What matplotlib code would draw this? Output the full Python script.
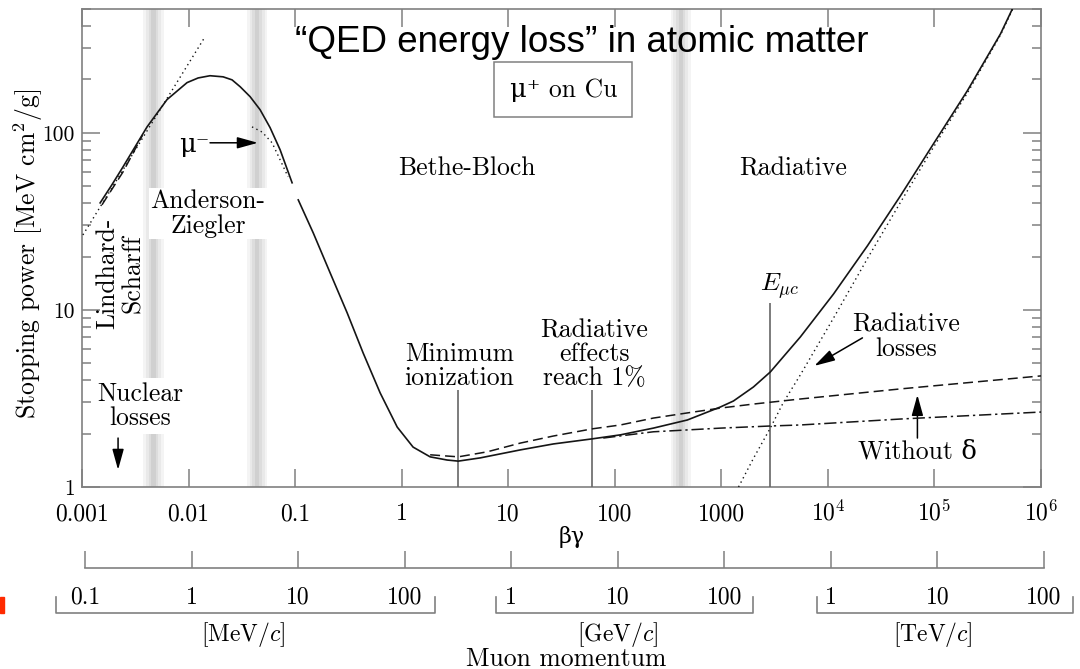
import matplotlib.pyplot as plt
import matplotlib.patches as mpatches
from matplotlib.ticker import NullLocator, NullFormatter

plt.rcParams['font.family'] = ['cmr10', 'DejaVu Serif']
plt.rcParams['mathtext.fontset'] = 'cm'
plt.rcParams['axes.formatter.use_mathtext'] = True

# --- values: beta*gamma and stopping power [MeV cm^2/g] ---
# mu+ on Cu, total (solid), low energy piece
bg_tot_a = [0.00148, 0.00191, 0.00243, 0.00408, 0.00628, 0.00968, 0.0123, 0.0159, 0.0211,
            0.0256, 0.0305, 0.0378, 0.0469, 0.0582, 0.0723, 0.0937]
sp_tot_a = [40.2, 50.9, 64.3, 108, 154, 192, 204, 210, 207,
            199, 182, 160, 135, 107, 80.2, 52.2]
# total (solid), main piece
bg_tot_b = [0.107, 0.148, 0.213, 0.308, 0.435, 0.628, 0.908, 1.28, 1.85, 2.67, 3.40,
            5.46, 13.0, 26.5, 61.5, 113, 230, 480, 980, 1300, 2000, 2880, 5520,
            11300, 23500, 48000, 98000, 204000, 417000, 540000]
sp_tot_b = [41.8, 27.2, 16.2, 9.62, 5.71, 3.40, 2.18, 1.68, 1.48, 1.42, 1.40,
            1.46, 1.62, 1.75, 1.87, 1.97, 2.15, 2.39, 2.83, 3.06, 3.67, 4.46, 7.04,
            12.3, 23.0, 44.1, 86.7, 173, 362, 502]
# dashed, low energy
bg_dash_a = [0.00154, 0.00243, 0.00370]
sp_dash_a = [39.2, 60.2, 97]
# dashed, ionization
bg_dash_b = [1.85, 3.40, 6.35, 13.0, 26.5, 61.5, 113, 230, 480, 980, 2000, 5520, 48000, 1e6]
sp_dash_b = [1.52, 1.48, 1.58, 1.77, 1.94, 2.13, 2.24, 2.45, 2.62, 2.79, 2.94, 3.14, 3.58, 4.24]
# dash-dot, without delta
bg_nodelta = [78, 230, 980, 2880, 5520, 48000, 1e6]
sp_nodelta = [1.89, 2.05, 2.15, 2.21, 2.24, 2.42, 2.65]
# dotted, radiative losses
bg_rad = [1450, 2000, 2880, 3820, 5520, 11300, 23500, 48000, 98000, 204000, 417000, 540000]
sp_rad = [1.0, 1.45, 2.15, 3.0, 4.3, 9.0, 19.5, 40.5, 83, 168, 357, 497]
# dotted, Lindhard-Scharff
bg_lind = [0.00102, 0.0143]
sp_lind = [26.5, 349]
# dotted, mu-
bg_muminus = [0.0394, 0.0490, 0.0608, 0.0723, 0.0859]
sp_muminus = [108, 101, 87.8, 70.4, 56.4]

band_centers = [0.0047, 0.044, 415]
marker_bg = [3.4, 61.5, 2880]
marker_top = [3.53, 3.53, 10.96]

xtick_vals = [1e-3, 1e-2, 1e-1, 1, 10, 100, 1000, 1e4, 1e5, 1e6]
xtick_labels = ['0.001', '0.01', '0.1', '1', '10', '100', '1000',
                r'$10^4$', r'$10^5$', r'$10^6$']
ytick_vals = [1, 10, 100]
ytick_labels = ['1', '10', '100']

p_labels = ['0.1', '1', '10', '100', '1', '10', '100', '1', '10', '100']
p_groups = ['[MeV/$c$]', '[GeV/$c$]', '[TeV/$c$]']
p_group_lo = [0.000534, 7.23, 7460]
p_group_hi = [1.93, 1870, 1.89e6]
p_group_mid = [0.0305, 99, 89800]

W, H = 1080, 669
fig = plt.figure(figsize=(W / 100, H / 100), dpi=100)
ax = fig.add_axes([82 / W, 1 - 487 / H, (1041 - 82) / W, (487 - 9) / H])
ax.set_xscale('log')
ax.set_yscale('log')
ax.set_xlim(1e-3, 1e6)
ax.set_ylim(1, 500)

# grey shaded bands
for c in band_centers:
    for half, col in [(0.095, '#f4f4f4'), (0.07, '#e9e9e9'), (0.045, '#dddddd'), (0.02, '#d0d0d0')]:
        ax.axvspan(c / 10 ** half, c * 10 ** half, color=col, lw=0, zorder=0)

lc = '#151515'
ax.plot(bg_tot_a, sp_tot_a, color=lc, lw=1.2, zorder=4)
ax.plot(bg_tot_b, sp_tot_b, color=lc, lw=1.2, zorder=4)
ax.plot(bg_dash_a, sp_dash_a, color=lc, lw=1.1, ls=(0, (6.5, 3.3)), zorder=4)
ax.plot(bg_dash_b, sp_dash_b, color=lc, lw=1.1, ls=(0, (6.5, 3.3)), zorder=4)
ax.plot(bg_nodelta, sp_nodelta, color=lc, lw=1.1, ls=(0, (8, 2.5, 1.5, 2.5)), zorder=4)
ax.plot(bg_rad, sp_rad, color=lc, lw=1.0, ls=(0, (1, 2.5)), zorder=4)
ax.plot(bg_lind, sp_lind, color=lc, lw=1.0, ls=(0, (1, 2.5)), zorder=4)
ax.plot(bg_muminus, sp_muminus, color=lc, lw=1.0, ls=(0, (1, 2.5)), zorder=4)

ax.vlines(marker_bg, 1, marker_top, color='#666666', lw=1.2, zorder=3)

# axes styling
for s in ax.spines.values():
    s.set_color('#808080')
    s.set_linewidth(1.2)
ax.set_xticks(xtick_vals)
ax.set_xticklabels(xtick_labels, va='baseline')
ax.xaxis.set_minor_locator(NullLocator())
ax.set_yticks(ytick_vals)
ax.set_yticklabels(ytick_labels)
ax.yaxis.set_minor_formatter(NullFormatter())
ax.tick_params(which='major', direction='in', length=13, width=1.1, color='#808080',
               top=True, right=True)
ax.tick_params(which='minor', direction='in', length=6.5, width=1.1, color='#808080',
               top=False, right=True)
ax.tick_params(axis='x', labelsize=17, pad=24)
ax.tick_params(axis='y', labelsize=15.5, pad=5)

# labels (multi-line labels anchored at the baseline of their last line)
fs = 18.5
box = dict(facecolor='white', edgecolor='none', pad=1)
ax.text(4.12, 57.9, 'Bethe-Bloch', ha='center', va='baseline', fontsize=fs)
ax.text(4740, 57.2, 'Radiative', ha='center', va='baseline', fontsize=fs)
ax.text(0.0152, 27.2, 'Anderson-\nZiegler', ha='center', va='baseline', fontsize=fs,
        linespacing=1.05, bbox=box, zorder=2)
ax.text(0.00228, 16.0, 'Lindhard-\nScharff', ha='center', va='center', rotation=90,
        fontsize=fs, linespacing=1.1, zorder=2)
ax.text(0.00351, 2.24, 'Nuclear\nlosses', ha='center', va='baseline', fontsize=fs,
        linespacing=1.0, bbox=dict(facecolor='white', edgecolor='none', pad=3), zorder=2)
ax.text(3.47, 3.77, 'Minimum\nionization', ha='center', va='baseline', fontsize=fs,
        linespacing=1.0)
ax.text(64.3, 3.77, 'Radiative\neffects\nreach 1%', ha='center', va='baseline',
        fontsize=fs, linespacing=1.0)
ax.text(3510, 12.8, r'$E_{\mu c}$', ha='center', va='baseline', fontsize=fs)
ax.text(54600, 5.50, 'Radiative\nlosses', ha='center', va='baseline', fontsize=fs,
        linespacing=1.05)
ax.text(69200, 1.44, 'Without \u03b4', ha='center', va='baseline', fontsize=fs)
ax.text(0.0113, 78.1, '\u03bc\u207b', ha='center', va='baseline', fontsize=fs)
ax.text(32.8, 160, '\u03bc\u207a on Cu', ha='center', va='baseline', fontsize=fs,
        bbox=dict(boxstyle='square,pad=0.6', facecolor='white', edgecolor='#808080', lw=1.1),
        zorder=5)

arrow = dict(arrowstyle='-|>,head_length=0.9,head_width=0.25', color='k', lw=1.1,
             shrinkA=0, shrinkB=0, mutation_scale=14)
ax.annotate('', xy=(0.00218, 1.25), xytext=(0.00218, 1.89), arrowprops=arrow)
ax.annotate('', xy=(0.0447, 87.8), xytext=(0.0159, 87.8), arrowprops=arrow)
ax.annotate('', xy=(7460, 4.83), xytext=(21100, 6.95), arrowprops=arrow)
ax.annotate('', xy=(69200, 3.31), xytext=(69200, 1.89), arrowprops=arrow)

fig.text(582 / W, 1 - 52 / H, '\u201cQED energy loss\u201d in atomic matter',
         family='Liberation Sans', fontsize=26.5, ha='center', va='baseline')
fig.text(28 / W, 1 - 254 / H, 'Stopping power [MeV cm$^2$/g]', rotation=90,
         ha='center', va='center', fontsize=fs)
fig.text(572 / W, 1 - 537 / H, '\u03b2\u03b3', ha='center', va='center', fontsize=16)

# muon momentum scale
axp = fig.add_axes([85 / W, 0, (1044 - 85) / W, 101 / H])
axp.set_xscale('log')
axp.set_xlim(1e-3, 1e6)
axp.set_ylim(101, 0)
axp.patch.set_alpha(0)
for s in ['left', 'right', 'bottom']:
    axp.spines[s].set_visible(False)
axp.spines['top'].set_color('#808080')
axp.spines['top'].set_linewidth(1.2)
axp.xaxis.tick_top()
axp.set_xticks(xtick_vals)
axp.xaxis.set_minor_locator(NullLocator())
axp.tick_params(axis='x', direction='out', length=12.5, width=1.1, color='#808080',
                labeltop=False, labelbottom=False)
axp.set_yticks([])
for xv, lbl in zip(xtick_vals, p_labels):
    axp.text(xv, 36, lbl, ha='center', va='baseline', fontsize=17)
for lo, hi, mid, g in zip(p_group_lo, p_group_hi, p_group_mid, p_groups):
    axp.plot([lo, lo, hi, hi], [29, 45, 45, 29], color='#808080', lw=1.2, clip_on=False)
    axp.text(mid, 73, g, ha='center', va='baseline', fontsize=17)
axp.text(32.8, 98, 'Muon momentum', ha='center', va='baseline', fontsize=fs)

fig.add_artist(mpatches.Rectangle((0, (H - 613) / H), 4 / W, 16 / H,
                                  transform=fig.transFigure, color='#ff2a00'))

fig.savefig('out.png', dpi=100, facecolor='white')
